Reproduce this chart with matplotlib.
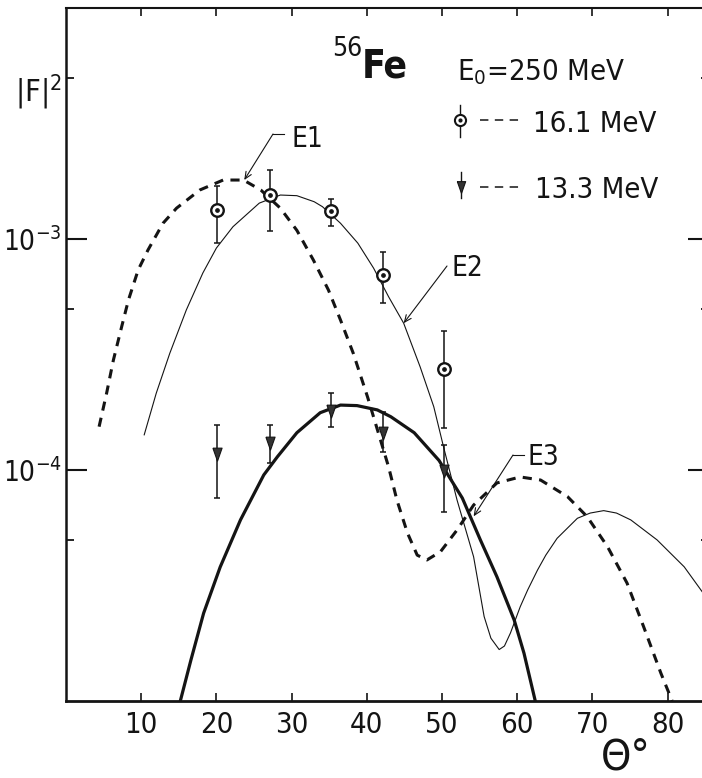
import numpy as np
import matplotlib
matplotlib.use("Agg")
import matplotlib.pyplot as plt
from matplotlib.lines import Line2D
from matplotlib.ticker import FixedLocator, FuncFormatter, NullFormatter

plt.rcParams["font.family"] = ["DejaVu Sans"]
plt.rcParams["font.stretch"] = "condensed"
plt.rcParams["mathtext.fontset"] = "custom"
plt.rcParams["mathtext.rm"] = "DejaVu Sans:stretch=condensed"
plt.rcParams["mathtext.it"] = "DejaVu Sans:stretch=condensed:style=italic"
plt.rcParams["mathtext.bf"] = "DejaVu Sans:stretch=condensed:weight=bold"

INK = "#141414"

# ---- measured |F|^2 of 56Fe, E0 = 250 MeV -------------------------------
theta_pts = [20.1, 27.1, 35.2, 42.2, 50.3]

f2_161 = [1.34e-3, 1.55e-3, 1.32e-3, 7.0e-4, 2.75e-4]
f2_161_hi = [1.70e-3, 1.98e-3, 1.49e-3, 8.8e-4, 4.0e-4]
f2_161_lo = [9.6e-4, 1.08e-3, 1.14e-3, 5.3e-4, 1.52e-4]

f2_133 = [1.19e-4, 1.32e-4, 1.82e-4, 1.46e-4, 1.0e-4]
f2_133_hi = [1.57e-4, 1.57e-4, 2.16e-4, 1.79e-4, 1.28e-4]
f2_133_lo = [7.6e-5, 1.07e-4, 1.54e-4, 1.20e-4, 6.6e-5]

# ---- calculated form factors -------------------------------------------
theta_e1 = [4.4, 5.4, 6.3, 7.4, 8.3, 9.6, 10.9, 12.9, 14.7, 17.8, 20.9, 23.6,
            25.9, 28.5, 30.7, 32.9, 34.9, 36.5, 38.2, 40.1, 42.9, 44.0, 45.4,
            46.7, 48.0, 49.8, 52.0, 54.2, 57.3, 60.4, 63.1, 66.7, 69.3, 72.0,
            74.6, 76.8, 79.1, 80.6]
f2_e1 = [1.54e-4, 2.15e-4, 2.99e-4, 4.17e-4, 5.44e-4, 7.35e-4, 8.96e-4,
         1.17e-3, 1.36e-3, 1.63e-3, 1.80e-3, 1.80e-3, 1.63e-3, 1.36e-3,
         1.09e-3, 8.10e-4, 6.01e-4, 4.46e-4, 3.20e-4, 2.07e-4, 1.03e-4,
         7.41e-5, 5.34e-5, 4.28e-5, 4.08e-5, 4.43e-5, 5.50e-5, 7.05e-5,
         8.79e-5, 9.33e-5, 9.05e-5, 7.66e-5, 6.28e-5, 4.66e-5, 3.24e-5,
         2.10e-5, 1.32e-5, 1.0e-5]

theta_e2 = [10.4, 12.0, 13.8, 16.0, 18.2, 20.0, 22.2, 25.7, 28.5, 30.7, 33.0,
            34.1, 36.5, 38.8, 40.9, 42.9, 44.9, 47.1, 48.9, 50.2, 52.0, 54.2,
            55.6, 56.5, 57.6, 58.3, 59.1, 60.4, 61.4, 62.7, 63.8, 65.3, 68.0,
            69.7, 71.5, 73.2, 75.1, 78.6, 82.2, 84.6, 85.7]
f2_e2 = [1.42e-4, 2.15e-4, 3.20e-4, 4.93e-4, 7.13e-4, 9.14e-4, 1.13e-3,
         1.43e-3, 1.55e-3, 1.54e-3, 1.45e-3, 1.38e-3, 1.17e-3, 9.6e-4,
         7.48e-4, 5.62e-4, 4.32e-4, 2.79e-4, 1.88e-4, 1.26e-4, 7.41e-5,
         4.21e-5, 2.32e-5, 1.87e-5, 1.67e-5, 1.73e-5, 1.97e-5, 2.56e-5,
         3.03e-5, 3.69e-5, 4.28e-5, 5.06e-5, 6.18e-5, 6.51e-5, 6.67e-5,
         6.51e-5, 6.08e-5, 4.98e-5, 3.81e-5, 2.97e-5, 2.6e-5]

theta_e3 = [15.2, 16.6, 18.3, 20.5, 23.2, 26.3, 28.1, 30.7, 33.8, 36.5, 38.7,
            41.4, 43.2, 46.3, 49.6, 52.7, 55.1, 57.3, 59.6, 60.9, 62.4]
f2_e3 = [1.0e-5, 1.50e-5, 2.40e-5, 3.80e-5, 6.08e-5, 9.52e-5, 1.14e-4,
         1.45e-4, 1.77e-4, 1.91e-4, 1.90e-4, 1.82e-4, 1.70e-4, 1.45e-4,
         1.10e-4, 7.56e-5, 4.98e-5, 3.45e-5, 2.24e-5, 1.61e-5, 1.0e-5]

x_ticks = [10, 20, 30, 40, 50, 60, 70, 80]
y_major = [1e-4, 1e-3]
y_minor = [5e-5, 5e-4, 5e-3]

# ---- figure ---------------------------------------------------------------
W, H = 702, 778
fig = plt.figure(figsize=(W / 100, H / 100), dpi=100)
fig.patch.set_facecolor("white")


def fp(x, y):
    """figure-pixel position (origin top-left) -> figure fraction"""
    return (x / W, 1 - y / H)


ax = fig.add_axes([66 / W, 1 - 701 / H, 643 / W, (701 - 8) / H])
ax.set_yscale("log")
ax.set_xlim(0, 85.5)
ax.set_ylim(1e-5, 1e-2)

# theory curves
ax.plot(theta_e1, f2_e1, color=INK, lw=2.2, ls=(0, (3.0, 2.4)),
        solid_capstyle="butt", dash_capstyle="butt", zorder=2)
ax.plot(theta_e2, f2_e2, color=INK, lw=0.8, zorder=2)
ax.plot(theta_e3, f2_e3, color=INK, lw=2.3, zorder=2)

# 16.1 MeV data
yerr161 = [np.array(f2_161) - np.array(f2_161_lo),
           np.array(f2_161_hi) - np.array(f2_161)]
ax.errorbar(theta_pts, f2_161, yerr=yerr161, fmt="none", ecolor=INK,
            elinewidth=1.1, capsize=2.4, capthick=1.1, zorder=3)
ax.plot(theta_pts, f2_161, ls="none", marker="o", ms=9, mfc="white",
        mec=INK, mew=1.7, zorder=4)
ax.plot(theta_pts, f2_161, ls="none", marker="o", ms=2.4, mfc=INK,
        mec=INK, zorder=5)

# 13.3 MeV data
tri = [(-0.6, 0.7), (0.6, 0.7), (0.0, -1.0), (-0.6, 0.7)]
yerr133 = [np.array(f2_133) - np.array(f2_133_lo),
           np.array(f2_133_hi) - np.array(f2_133)]
ax.errorbar(theta_pts, f2_133, yerr=yerr133, fmt="none", ecolor=INK,
            elinewidth=1.1, capsize=2.4, capthick=1.1, zorder=3)
ax.plot(theta_pts, f2_133, ls="none", marker=tri, ms=11, mfc="#333333",
        mec=INK, mew=0.8, zorder=4)

# axes styling
for side, lw in (("left", 1.8), ("bottom", 2.0), ("top", 1.5), ("right", 1.5)):
    ax.spines[side].set_linewidth(lw)
    ax.spines[side].set_color(INK)

ax.xaxis.set_major_locator(FixedLocator(x_ticks))
ax.xaxis.set_minor_locator(FixedLocator([]))
ax.yaxis.set_major_locator(FixedLocator(y_major))
ax.yaxis.set_minor_locator(FixedLocator(y_minor))
ax.yaxis.set_minor_formatter(NullFormatter())
ax.yaxis.set_major_formatter(
    FuncFormatter(lambda v, _: r"$\mathregular{10^{%d}}$" % round(np.log10(v))))

ax.tick_params(axis="x", which="major", direction="in", length=6, width=1.2,
               top=True, bottom=True, labelsize=21, pad=7, colors=INK)
ax.tick_params(axis="y", which="major", direction="in", length=15, width=1.5,
               left=True, right=True, labelsize=20, pad=3, colors=INK)
ax.tick_params(axis="y", which="minor", direction="in", length=6, width=1.3,
               left=True, right=True, colors=INK)

# longer mark at 50 degrees
for t in ax.xaxis.get_major_ticks():
    if abs(t.get_loc() - 50) < 1e-6:
        t.tick1line.set_markersize(12.5)
        t.tick2line.set_markersize(12.5)

# axis titles
fig.text(*fp(62, 102), r"$\mathregular{|F|^{2}}$", fontsize=22, ha="right",
         va="baseline", color=INK)
fig.text(*fp(601, 770), "\u0398\u00b0", fontsize=31, ha="left",
         va="baseline", color=INK)

# nucleus label
fig.text(*fp(362, 56), "56", fontsize=19, ha="right", va="baseline", color=INK)
fig.text(*fp(362, 78), "Fe", fontsize=28, fontweight="bold", ha="left",
         va="baseline", color=INK)

# key
fig.text(*fp(457, 80), r"$\mathregular{E_0}$=250 MeV", fontsize=21,
         ha="left", va="baseline", color=INK)
fig.text(*fp(533, 132), "16.1 MeV", fontsize=21, ha="left", va="baseline",
         color=INK)
fig.text(*fp(535, 198), "13.3 MeV", fontsize=21, ha="left", va="baseline",
         color=INK)

for ym in (120, 187):
    xs, ys = zip(fp(480, ym), fp(520, ym))
    fig.add_artist(Line2D(xs, ys, transform=fig.transFigure, color=INK,
                          lw=1.1, ls=(0, (5.5, 4.2))))

xs, ys = zip(fp(460, 105), fp(460, 137))
fig.add_artist(Line2D(xs, ys, transform=fig.transFigure, color=INK, lw=1.0))
fig.add_artist(Line2D([fp(460, 120)[0]], [fp(460, 120)[1]],
                      transform=fig.transFigure, ls="none", marker="o", ms=8,
                      mfc="white", mec=INK, mew=1.5))
fig.add_artist(Line2D([fp(460, 120)[0]], [fp(460, 120)[1]],
                      transform=fig.transFigure, ls="none", marker="o", ms=2,
                      mfc=INK, mec=INK))
xs, ys = zip(fp(461, 172), fp(461, 198))
fig.add_artist(Line2D(xs, ys, transform=fig.transFigure, color=INK, lw=1.0))
fig.add_artist(Line2D([fp(461, 186)[0]], [fp(461, 186)[1]],
                      transform=fig.transFigure, ls="none", marker=tri,
                      ms=10, mfc="#333333", mec=INK, mew=0.8))

# curve labels with leaders
arrow = dict(arrowstyle="->,head_length=0.5,head_width=0.22", lw=0.8,
             color=INK, shrinkA=0, shrinkB=0)


def leader(label, tip, bend, start, text_xy):
    ax.annotate("", xy=tip, xycoords="data", xytext=fp(*bend),
                textcoords="figure fraction", arrowprops=arrow)
    if start != bend:
        xs, ys = zip(fp(*bend), fp(*start))
        fig.add_artist(Line2D(xs, ys, transform=fig.transFigure, color=INK,
                              lw=0.8))
    fig.text(*fp(*text_xy), label, fontsize=20, ha="left", va="baseline",
             color=INK)


leader("E1", (23.7, 1.80e-3), (273, 134), (284, 134), (291, 147))
leader("E2", (44.9, 4.32e-4), (447, 266), (447, 266), (452, 276))
leader("E3", (54.2, 6.3e-5), (513, 455), (524, 455), (527, 465))

fig.savefig("out.png", dpi=100, facecolor="white")
